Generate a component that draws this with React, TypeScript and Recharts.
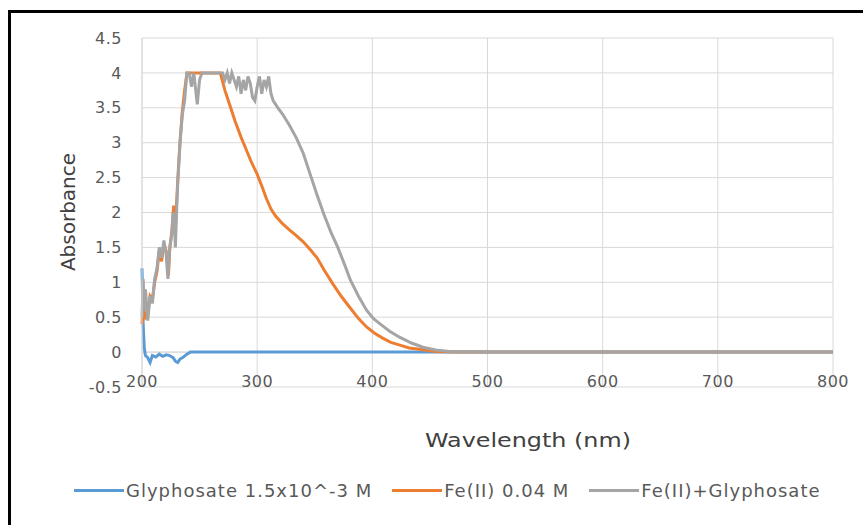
import {
    CartesianGrid,
    Legend,
    Line,
    LineChart,
    ReferenceLine,
    XAxis,
    YAxis,
} from 'recharts';

// wavelength (nm) / absorbance pairs
const glyphosateNm = [200, 201, 202, 203, 205, 207, 209, 212, 215, 218, 221, 224, 227, 229, 231, 233, 236, 239, 242, 300, 400, 500, 600, 700, 800];
const glyphosateAbs = [1.2, 0.4, 0.05, -0.05, -0.08, -0.15, -0.05, -0.07, -0.03, -0.06, -0.04, -0.05, -0.08, -0.13, -0.15, -0.1, -0.07, -0.03, 0, 0, 0, 0, 0, 0, 0];

const feNm = [200, 201, 203, 205, 207, 209, 211, 213, 215, 217, 219, 221, 223, 224, 226, 227.5, 229, 231, 233, 235, 237, 239, 250, 260, 268, 272, 276, 281, 286, 290, 295, 300, 304, 308, 312, 316, 322, 328, 334, 340, 346, 352, 358, 366, 373, 380, 388, 395, 402, 409, 416, 424, 432, 441, 455, 470, 500, 600, 700, 800];
const feAbs = [0.4, 0.65, 0.5, 0.55, 0.8, 0.75, 1.0, 1.15, 1.45, 1.3, 1.55, 1.45, 1.1, 1.45, 1.75, 2.1, 1.8, 2.45, 3.0, 3.45, 3.75, 4.0, 4.0, 4.0, 4.0, 3.75, 3.55, 3.3, 3.08, 2.92, 2.72, 2.55, 2.38, 2.2, 2.05, 1.95, 1.84, 1.75, 1.67, 1.58, 1.47, 1.35, 1.18, 0.97, 0.8, 0.65, 0.48, 0.36, 0.27, 0.2, 0.14, 0.1, 0.06, 0.04, 0.01, 0, 0, 0, 0, 0];

const mixNm = [200, 201, 202, 203, 205, 207, 209, 211, 213, 215, 217, 219, 221, 222.5, 224, 226, 227, 228, 229, 230, 231, 233, 235, 237, 239, 241, 243, 245, 247, 248, 250, 252, 260, 270, 272, 274, 276, 278, 280, 282, 284, 286, 288, 290, 292, 294, 296, 298, 300, 302, 304, 306, 308, 310, 312, 314, 318, 322, 328, 334, 340, 346, 352, 358, 364, 370, 376, 381, 388, 395, 401, 407, 415, 424, 434, 444, 455, 467, 480, 500, 600, 700, 800];
const mixAbs = [0.5, 1.05, 0.6, 0.9, 0.45, 0.8, 0.7, 1.05, 1.2, 1.5, 1.35, 1.6, 1.4, 1.05, 1.5, 1.7, 2.0, 1.9, 1.5, 2.0, 2.4, 3.0, 3.4, 3.6, 4.0, 4.0, 3.8, 4.0, 3.7, 3.55, 3.9, 4.0, 4.0, 4.0, 3.9, 4.0, 3.85, 4.0, 3.9, 3.8, 3.95, 3.7, 3.9, 3.75, 3.95, 3.85, 3.65, 3.6, 3.8, 3.95, 3.7, 3.9, 3.8, 3.95, 3.7, 3.6, 3.5, 3.41, 3.25, 3.07, 2.85, 2.55, 2.25, 1.97, 1.72, 1.5, 1.25, 1.03, 0.8, 0.6, 0.48, 0.4, 0.3, 0.21, 0.13, 0.07, 0.03, 0.01, 0.005, 0, 0, 0, 0];

const xTicks = [200, 300, 400, 500, 600, 700, 800];
const yTicks = [-0.5, 0, 0.5, 1, 1.5, 2, 2.5, 3, 3.5, 4, 4.5];

const seriesNames = ['Glyphosate 1.5x10^-3 M', 'Fe(II) 0.04 M', 'Fe(II)+Glyphosate'];
const seriesColors = ['#5b9bd5', '#ed7d31', '#a5a5a5'];

const toPoints = (nm: number[], abs: number[]) =>
    nm.map((w, i) => ({ nm: w, abs: abs[i] }));

const font = '"DejaVu Sans", sans-serif';
const textColor = '#595959';

function WaveTick({ x, y, payload }: any) {
    return (
        <text x={x} y={y} dy={-8} textAnchor="middle" fill={textColor} fontSize={16} letterSpacing={0.5} fontFamily={font}>
            {payload.value}
        </text>
    );
}

// keep series order instead of the legend's alphabetical sort
function LegendRow({ payload }: any) {
    const items = seriesNames
        .map((name) => (payload || []).find((p: any) => p.value === name))
        .filter(Boolean);
    return (
        <div style={{ display: 'flex', alignItems: 'center', fontFamily: font, fontSize: 18, letterSpacing: 1, color: textColor, whiteSpace: 'nowrap' }}>
            {items.map((p: any, i: number) => (
                <div key={p.value} style={{ display: 'flex', alignItems: 'center', marginLeft: i === 0 ? 0 : 20 }}>
                    <span style={{ width: 50, height: 3, background: p.color, display: 'inline-block', marginRight: 2 }} />
                    <span>{p.value}</span>
                </div>
            ))}
        </div>
    );
}

export default function App() {
    return (
        <div style={{ position: 'absolute', left: 0, top: 0, width: 863, height: 525, background: '#fff', overflow: 'hidden' }}>
            <div
                style={{
                    position: 'absolute',
                    left: 8,
                    top: 10,
                    width: 900,
                    height: 600,
                    borderLeft: '3px solid #000',
                    borderTop: '3px solid #000',
                }}
            />
            <div style={{ position: 'absolute', left: 0, top: 0 }}>
                <LineChart width={863} height={525} margin={{ top: 38, right: 30, bottom: 87, left: 92 }}>
                    <CartesianGrid stroke="#d9d9d9" />
                    <XAxis
                        type="number"
                        dataKey="nm"
                        domain={[200, 800]}
                        ticks={xTicks}
                        axisLine={false}
                        tickLine={false}
                        height={30}
                        tick={<WaveTick />}
                        label={{
                            content: () => (
                                <text
                                    x={528}
                                    y={447}
                                    textAnchor="middle"
                                    fill="#404040"
                                    fontSize={20}
                                    fontFamily={font}
                                    textLength={206}
                                    lengthAdjust="spacingAndGlyphs"
                                >
                                    Wavelength (nm)
                                </text>
                            ),
                        }}
                    />
                    <YAxis
                        type="number"
                        domain={[-0.5, 4.5]}
                        ticks={yTicks}
                        width={50}
                        axisLine={{ stroke: '#d9d9d9' }}
                        tickLine={false}
                        tickMargin={14}
                        tick={{ fill: textColor, fontSize: 16, fontFamily: font, letterSpacing: 0.5 }}
                        label={{
                            content: () => (
                                <text
                                    x={68}
                                    y={212}
                                    transform="rotate(-90 68 212)"
                                    textAnchor="middle"
                                    dominantBaseline="central"
                                    fill="#404040"
                                    fontSize={20}
                                    fontFamily={font}
                                >
                                    Absorbance
                                </text>
                            ),
                        }}
                    />
                    <ReferenceLine y={0} stroke="#d9d9d9" strokeWidth={1} />
                    <Legend
                        content={<LegendRow />}
                        wrapperStyle={{ position: 'absolute', left: 74, top: 480, width: 'auto' }}
                    />
                    <Line
                        data={toPoints(glyphosateNm, glyphosateAbs)}
                        dataKey="abs"
                        name={seriesNames[0]}
                        stroke={seriesColors[0]}
                        strokeWidth={3}
                        dot={false}
                        type="linear"
                        isAnimationActive={false}
                    />
                    <Line
                        data={toPoints(feNm, feAbs)}
                        dataKey="abs"
                        name={seriesNames[1]}
                        stroke={seriesColors[1]}
                        strokeWidth={3}
                        dot={false}
                        type="linear"
                        isAnimationActive={false}
                    />
                    <Line
                        data={toPoints(mixNm, mixAbs)}
                        dataKey="abs"
                        name={seriesNames[2]}
                        stroke={seriesColors[2]}
                        strokeWidth={3}
                        dot={false}
                        type="linear"
                        isAnimationActive={false}
                    />
                </LineChart>
            </div>
        </div>
    );
}
